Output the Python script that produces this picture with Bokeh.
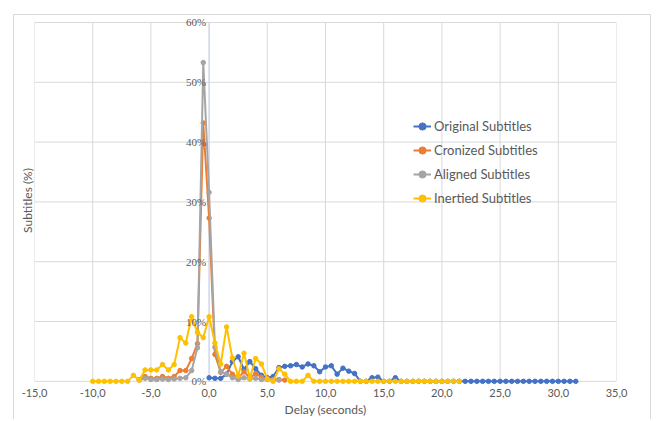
from bokeh.plotting import figure
from bokeh.models import (ColumnDataSource, FixedTicker, LabelSet,
                          Legend, LegendItem)
from bokeh.embed import file_html
from bokeh.resources import INLINE

STEP = 0.5

x_ticks = [-15, -10, -5, 0, 5, 10, 15, 20, 25, 30, 35]
x_tick_labels = ["-15,0", "-10,0", "-5,0", "0,0", "5,0", "10,0", "15,0",
                 "20,0", "25,0", "30,0", "35,0"]
y_ticks = [0, 10, 20, 30, 40, 50, 60]
y_tick_labels = ["0%", "10%", "20%", "30%", "40%", "50%", "60%"]

series_names = ["Original Subtitles", "Cronized Subtitles",
                "Aligned Subtitles", "Inertied Subtitles"]

original_start = 0.0
original_vals = [0.6, 0.5, 0.5, 1.2, 3.3, 4.1, 2.0, 3.3, 2.1, 1.0, 0.6, 0.8,
                 2.3, 2.5, 2.6, 2.8, 2.4, 2.9, 2.6, 1.6, 2.4, 2.6, 1.2, 2.2,
                 1.7, 1.3, 0.0, 0.0, 0.6, 0.7, 0.0, 0.0, 0.6,
                 0, 0, 0, 0, 0, 0, 0, 0, 0, 0, 0, 0, 0, 0, 0, 0,
                 0, 0, 0, 0, 0, 0, 0, 0, 0, 0, 0, 0, 0, 0, 0]

cronized_start = -6.0
cronized_vals = [0.3, 0.8, 0.5, 0.5, 0.8, 0.5, 0.8, 1.8, 1.8, 3.8, 6.3, 43.2,
                 27.3, 4.5, 1.5, 2.5, 1.2, 0.6, 1.6, 0.6, 1.3, 0.7, 0.4, 0.3,
                 0.3, 0.2]

aligned_start = -6.0
aligned_vals = [0.2, 0.5, 0.3, 0.3, 0.4, 0.3, 0.4, 0.5, 0.6, 1.8, 5.6, 53.3,
                31.6, 5.7, 1.6, 1.2, 0.6, 0.3, 0.6, 0.4, 0.5, 0.3, 0.3, 0.2,
                0.2]

inertied_start = -10.0
inertied_vals = [0, 0, 0, 0, 0, 0, 0, 1.0, 0.2, 1.9, 1.9, 1.9, 2.8, 1.9, 2.8,
                 7.3, 6.4, 10.8, 8.2, 7.3, 10.8, 6.4, 2.9, 9.1, 3.9, 0.9, 4.7,
                 0.5, 3.8, 2.9, 0.4, 0.0, 2.1, 1.2, 0, 0, 0, 1.0,
                 0, 0, 0, 0, 0, 0, 0, 0, 0, 0, 0, 0, 0,
                 0, 0, 0, 0, 0, 0, 0, 0, 0, 0, 0, 0, 0]

colors = ["#4472C4", "#ED7D31", "#A5A5A5", "#FFC000"]

FONT = "Lato"
TXT = "#595959"
GRID = "#d9d9d9"

x_lo, x_hi = x_ticks[0], x_ticks[-1]
y_lo, y_hi = y_ticks[0], y_ticks[-1]

p = figure(width=638, height=405, x_range=(x_lo, x_hi), y_range=(-0.7, 61.17),
           output_backend="svg", toolbar_location=None,
           min_border_left=20, min_border_right=36, min_border_top=0,
           min_border_bottom=35)
# chart-area border (top, left, right) as in the spreadsheet picture
p.styles = {"margin-left": "13px", "margin-top": "14px",
            "border-left": "1px solid #d9d9d9",
            "border-top": "1px solid #d9d9d9",
            "border-right": "1px solid #d9d9d9"}
p.outline_line_color = None
p.background_fill_color = "white"
p.xgrid.visible = False
p.ygrid.visible = False

# x axis
p.xaxis.ticker = FixedTicker(ticks=x_ticks)
p.xaxis.major_label_overrides = {t: l for t, l in zip(x_ticks, x_tick_labels)}
p.xaxis.major_tick_line_color = None
p.xaxis.major_tick_out = 0
p.xaxis.minor_tick_line_color = None
p.xaxis.axis_line_color = None
p.xaxis.major_label_standoff = 3
p.xaxis.major_label_text_font = FONT
p.xaxis.major_label_text_font_size = "11px"
p.xaxis.major_label_text_color = TXT
p.xaxis.axis_label = "Delay (seconds)"
p.xaxis.axis_label_standoff = 2
p.xaxis.axis_label_text_font = FONT
p.xaxis.axis_label_text_font_size = "12px"
p.xaxis.axis_label_text_font_style = "normal"
p.xaxis.axis_label_text_color = TXT

# y axis: title only (tick labels sit at x = 0)
p.yaxis.ticker = FixedTicker(ticks=[])
p.yaxis.major_tick_line_color = None
p.yaxis.major_tick_out = 0
p.yaxis.minor_tick_line_color = None
p.yaxis.axis_line_color = None
p.yaxis.major_label_standoff = 0
p.yaxis.axis_label = "Subtitles (%)"
p.yaxis.axis_label_standoff = 0
p.yaxis.axis_label_text_font = FONT
p.yaxis.axis_label_text_font_size = "12px"
p.yaxis.axis_label_text_font_style = "normal"
p.yaxis.axis_label_text_color = TXT

# gridlines (span exactly the value range, as in the spreadsheet chart)
p.segment(x0=x_ticks, x1=x_ticks, y0=[y_lo] * len(x_ticks),
          y1=[y_hi] * len(x_ticks), line_color=GRID, line_width=1)
p.segment(x0=[x_lo] * len(y_ticks), x1=[x_hi] * len(y_ticks), y0=y_ticks,
          y1=y_ticks, line_color=GRID, line_width=1)
p.segment(x0=[0], x1=[0], y0=[y_lo], y1=[y_hi], line_color="#c6d5ef",
          line_width=1)

starts = [original_start, cronized_start, aligned_start, inertied_start]
vals = [original_vals, cronized_vals, aligned_vals, inertied_vals]
items = []
for name, st, v, c in zip(series_names, starts, vals, colors):
    xs = [st + STEP * i for i in range(len(v))]
    src = ColumnDataSource(dict(x=xs, y=v))
    lr = p.line("x", "y", source=src, line_color=c, line_width=2)
    sr = p.scatter("x", "y", source=src, size=4.5, fill_color=c, line_color=c)
    items.append(LegendItem(label=name, renderers=[lr, sr]))

legend = Legend(items=items, location=(379, 177), padding=0, margin=0,
                spacing=4, glyph_width=18, glyph_height=20, label_height=20,
                label_standoff=3, border_line_color=None,
                background_fill_alpha=0, label_text_font=FONT,
                label_text_font_size="13px", label_text_color=TXT)
p.add_layout(legend)

ysrc = ColumnDataSource(dict(x=[0] * len(y_ticks), y=y_ticks, t=y_tick_labels))
p.add_layout(LabelSet(x="x", y="y", text="t", source=ysrc, x_offset=-3,
                      text_align="right", text_baseline="middle",
                      text_font=FONT, text_font_size="11px", text_color=TXT))

open("out.html", "w").write(file_html(p, INLINE))
